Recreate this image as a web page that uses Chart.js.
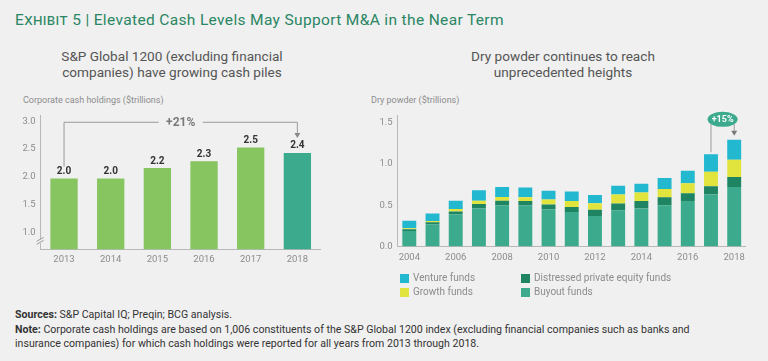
<!DOCTYPE html>
<html>
<head>
<meta charset="utf-8">
<script src="https://cdn.jsdelivr.net/npm/chart.js@4.4.0/dist/chart.umd.min.js"></script>
<style>
  body { margin: 0; background: #f0f0f0; font-family: Roboto, "Noto Sans", sans-serif; }
  #page { position: relative; width: 768px; height: 361px; overflow: hidden; background: #f0f0f0; }
  .abs { position: absolute; white-space: nowrap; }
  #title { left: 15px; top: 10px; font-size: 15.5px; line-height: 20px; letter-spacing: 0.35px; color: #2a8663; }
  #title .sc { font-variant: small-caps; }
  .sub { top: 49px; width: 320px; text-align: center; font-size: 13.6px; line-height: 15.5px; color: #555; }
  .axt { top: 94px; font-size: 9px; line-height: 12px; color: #8c8c8c; }
  canvas { position: absolute; }
  #legend { left: 400px; top: 271px; width: 340px; }
  .lg { position: absolute; font-size: 10px; line-height: 14px; color: #8c8c8c; white-space: nowrap; }
  .lg span { position: absolute; left: -13px; top: 2.5px; width: 9px; height: 9px; }
  #notes { left: 15px; top: 308px; font-size: 10.6px; line-height: 14.5px; color: #333; }
</style>
</head>
<body>
<div id="page">
  <div id="title" class="abs"><span class="sc">Exhibit 5</span> | Elevated Cash Levels May Support M&amp;A in the Near Term</div>
  <div class="abs sub" style="left:12px">S&amp;P Global 1200 (excluding financial<br>companies) have growing cash piles</div>
  <div class="abs sub" style="left:403px">Dry powder continues to reach<br>unprecedented heights</div>
  <div class="abs axt" style="left:23px">Corporate cash holdings ($trillions)</div>
  <div class="abs axt" style="left:371px">Dry powder ($trillions)</div>
  <canvas id="cash" width="340" height="170" style="left:0;top:105px"></canvas>
  <canvas id="dry" width="398" height="170" style="left:370px;top:105px"></canvas>
  <div id="legend" class="abs"></div>
  <div id="notes" class="abs"><b>Sources:</b> S&amp;P Capital IQ; Preqin; BCG analysis.<br><b>Note:</b> Corporate cash holdings are based on 1,006 constituents of the S&amp;P Global 1200 index (excluding financial companies such as banks and<br>insurance companies) for which cash holdings were reported for all years from 2013 through 2018.</div>
</div>
<script>
// left chart
var CASH_YEARS = ['2013', '2014', '2015', '2016', '2017', '2018'];
var CASH_VALUES = [1.97, 1.97, 2.16, 2.28, 2.53, 2.43];
var CASH_TICKS = [1.0, 1.5, 2.0, 2.5, 3.0];
var CASH_CHANGE = '+21%';

// right chart
var DP_YEARS = ['2004', '2005', '2006', '2007', '2008', '2009', '2010', '2011', '2012', '2013', '2014', '2015', '2016', '2017', '2018'];
var BUYOUT = [0.19, 0.27, 0.39, 0.46, 0.50, 0.50, 0.45, 0.42, 0.37, 0.44, 0.46, 0.50, 0.55, 0.63, 0.72];
var DISTRESSED = [0.02, 0.025, 0.035, 0.055, 0.055, 0.05, 0.06, 0.06, 0.075, 0.08, 0.09, 0.095, 0.095, 0.10, 0.12];
var GROWTH = [0.012, 0.015, 0.03, 0.04, 0.045, 0.045, 0.06, 0.07, 0.08, 0.11, 0.105, 0.10, 0.12, 0.175, 0.21];
var VENTURE = [0.09, 0.09, 0.10, 0.125, 0.12, 0.12, 0.105, 0.115, 0.10, 0.105, 0.105, 0.135, 0.15, 0.21, 0.24];
var DP_TICKS = [0, 0.5, 1.0, 1.5];
var DP_CHANGE = '+15%';

var GREEN = '#86c55f';
var TEAL = '#3caa8d';
var DARK = '#1f8462';
var YELLOW = '#e2e43e';
var CYAN = '#22b8cf';
var AXIS = '#b8b8b8';
var TICK = '#8c8c8c';
var BG = '#f0f0f0';

Chart.defaults.font.family = 'Roboto, "Noto Sans", sans-serif';

function arrowDown(ctx, x, y) {
  ctx.beginPath();
  ctx.moveTo(x - 3, y - 5);
  ctx.lineTo(x + 3, y - 5);
  ctx.lineTo(x, y);
  ctx.closePath();
  ctx.fill();
}

var cashPlugin = {
  id: 'cashExtras',
  afterDraw: function(chart) {
    var ctx = chart.ctx;
    var y = chart.scales.y;
    var bars = chart.getDatasetMeta(0).data;
    ctx.save();
    // value labels
    ctx.font = 'bold 10px Roboto';
    ctx.fillStyle = '#333';
    ctx.textAlign = 'center';
    ctx.textBaseline = 'middle';
    bars.forEach(function(b, i) {
      ctx.fillText(CASH_VALUES[i].toFixed(1), b.x, b.y - 7);
    });
    // growth bracket
    var x0 = bars[0].x, x1 = bars[bars.length - 1].x;
    var top = y.getPixelForValue(3.0) + 1;
    var mid = (x0 + x1) / 2;
    ctx.strokeStyle = '#9a9a9a';
    ctx.fillStyle = '#8a8a8a';
    ctx.lineWidth = 1;
    ctx.beginPath();
    ctx.moveTo(x0, bars[0].y - 12);
    ctx.lineTo(x0, top);
    ctx.lineTo(mid - 22, top);
    ctx.moveTo(mid + 22, top);
    ctx.lineTo(x1, top);
    ctx.lineTo(x1, bars[bars.length - 1].y - 18);
    ctx.stroke();
    arrowDown(ctx, x1, bars[bars.length - 1].y - 15);
    ctx.font = 'bold 12px Roboto';
    ctx.fillStyle = '#7a7a7a';
    ctx.fillText(CASH_CHANGE, mid, top + 1);
    // axis break
    var ax = chart.chartArea.left;
    var by = chart.chartArea.bottom - 8;
    ctx.fillStyle = BG;
    ctx.fillRect(ax - 2, by - 2, 4, 4);
    ctx.strokeStyle = '#9a9a9a';
    ctx.beginPath();
    ctx.moveTo(ax - 4, by);
    ctx.lineTo(ax + 3, by - 4);
    ctx.moveTo(ax - 4, by + 3);
    ctx.lineTo(ax + 3, by - 1);
    ctx.stroke();
    ctx.restore();
  }
};

new Chart(document.getElementById('cash'), {
  type: 'bar',
  data: {
    labels: CASH_YEARS,
    datasets: [{
      data: CASH_VALUES,
      backgroundColor: CASH_YEARS.map(function(y, i) { return i == CASH_YEARS.length - 1 ? TEAL : GREEN; }),
      barPercentage: 0.585,
      categoryPercentage: 1
    }]
  },
  options: {
    responsive: false,
    animation: false,
    layout: { padding: { top: 10, right: 19.3, left: 0, bottom: 0 } },
    plugins: { legend: { display: false }, tooltip: { enabled: false } },
    scales: {
      x: {
        grid: { drawOnChartArea: false, drawTicks: false },
        border: { color: AXIS },
        ticks: { color: TICK, font: { size: 9.5 }, padding: 5 },
        afterFit: function(s) { s.height = 25.7; }
      },
      y: {
        min: 0.7,
        max: 3.1,
        afterBuildTicks: function(s) { s.ticks = CASH_TICKS.map(function(v) { return { value: v }; }); },
        grid: { drawOnChartArea: false, drawTicks: false },
        border: { color: AXIS },
        ticks: { color: TICK, font: { size: 9.5 }, padding: 5, callback: function(v) { return v.toFixed(1); } },
        afterFit: function(s) { s.width = 40.7; }
      }
    }
  },
  plugins: [cashPlugin]
});

var dryPlugin = {
  id: 'dryExtras',
  afterDraw: function(chart) {
    var ctx = chart.ctx;
    var y = chart.scales.y;
    var tops = chart.getDatasetMeta(3).data;
    var a = tops[tops.length - 2], b = tops[tops.length - 1];
    var cx = (a.x + b.x) / 2;
    var cy = y.getPixelForValue(1.5) - 3;
    var rx = 15, ry = 7.5;
    var dy = ry * Math.sqrt(1 - Math.pow((b.x - cx) / rx, 2));
    ctx.save();
    ctx.strokeStyle = '#9a9a9a';
    ctx.fillStyle = '#7a7a7a';
    ctx.lineWidth = 1;
    ctx.beginPath();
    ctx.moveTo(a.x, cy + dy);
    ctx.lineTo(a.x, a.y - 2);
    ctx.moveTo(b.x, cy + dy);
    ctx.lineTo(b.x, b.y - 8);
    ctx.stroke();
    arrowDown(ctx, b.x, b.y - 4);
    ctx.fillStyle = TEAL;
    ctx.beginPath();
    ctx.ellipse(cx, cy, rx, ry, 0, 0, Math.PI * 2);
    ctx.fill();
    ctx.fillStyle = '#fff';
    ctx.font = 'bold 9px Roboto';
    ctx.textAlign = 'center';
    ctx.textBaseline = 'middle';
    ctx.fillText(DP_CHANGE, cx, cy + 0.5);
    ctx.restore();
  }
};

var dpSets = [
  { label: 'Buyout funds', data: BUYOUT, backgroundColor: TEAL },
  { label: 'Distressed private equity funds', data: DISTRESSED, backgroundColor: DARK },
  { label: 'Growth funds', data: GROWTH, backgroundColor: YELLOW },
  { label: 'Venture funds', data: VENTURE, backgroundColor: CYAN }
];
dpSets.forEach(function(d) { d.barPercentage = 0.6; d.categoryPercentage = 1; });

new Chart(document.getElementById('dry'), {
  type: 'bar',
  data: { labels: DP_YEARS, datasets: dpSets },
  options: {
    responsive: false,
    animation: false,
    layout: { padding: { top: 7.7, right: 22.2, left: 0, bottom: 0 } },
    plugins: { legend: { display: false }, tooltip: { enabled: false } },
    scales: {
      x: {
        stacked: true,
        grid: { drawOnChartArea: false, drawTicks: false },
        border: { color: AXIS },
        ticks: {
          color: TICK, font: { size: 9.5 }, padding: 5, autoSkip: false, maxRotation: 0,
          callback: function(v, i) { return i % 2 == 0 ? DP_YEARS[i] : ''; }
        },
        afterFit: function(s) { s.height = 28.3; }
      },
      y: {
        stacked: true,
        min: 0,
        max: 1.58,
        afterBuildTicks: function(s) { s.ticks = DP_TICKS.map(function(v) { return { value: v }; }); },
        grid: { drawOnChartArea: false, drawTicks: false },
        border: { color: AXIS },
        ticks: { color: TICK, font: { size: 9.5 }, padding: 5, callback: function(v) { return v.toFixed(1); } },
        afterFit: function(s) { s.width = 27.7; }
      }
    }
  },
  plugins: [dryPlugin]
});

// legend: two columns, venture/growth then distressed/buyout
var LEGEND_ORDER = [3, 2, 1, 0];
var legend = document.getElementById('legend');
LEGEND_ORDER.forEach(function(idx, k) {
  var d = dpSets[idx];
  var el = document.createElement('div');
  el.className = 'lg';
  el.style.left = (k < 2 ? 13 : 134) + 'px';
  el.style.top = (k % 2 == 0 ? 0 : 14.4) + 'px';
  el.innerHTML = '<span style="background:' + d.backgroundColor + '"></span>' + d.label;
  legend.appendChild(el);
});
</script>
</body>
</html>
